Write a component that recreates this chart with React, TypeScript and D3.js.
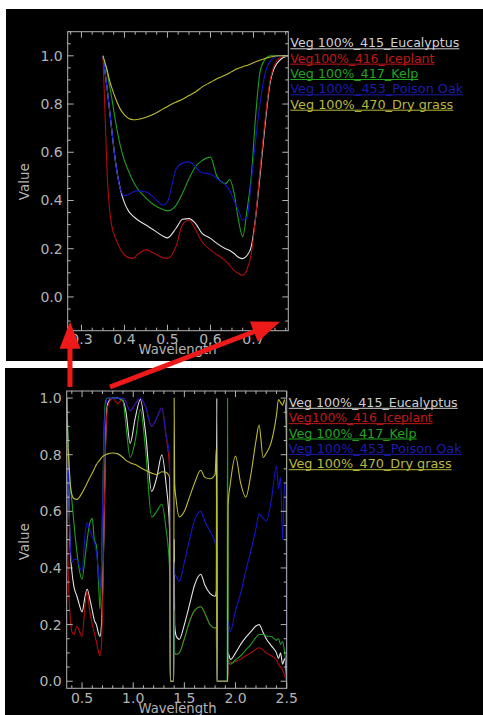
import React from "react";
import * as d3 from "d3";

// ---- data ----

const seriesNames = [
  "Veg 100%_415_Eucalyptus",
  "Veg100%_416_Iceplant",
  "Veg 100%_417_Kelp",
  "Veg 100%_453_Poison Oak",
  "Veg 100%_470_Dry grass",
];

// zoomed view, 0.35 - 0.78 um
const topWavelength = [
  0.35, 0.355, 0.36, 0.365, 0.37, 0.38, 0.39, 0.40, 0.41, 0.42, 0.43, 0.45,
  0.47, 0.49, 0.50, 0.52, 0.535, 0.55, 0.565, 0.58, 0.60, 0.615, 0.635, 0.645,
  0.655, 0.665, 0.675, 0.685, 0.695, 0.705, 0.715, 0.725, 0.74, 0.76, 0.78,
];
const topEucalyptus = [
  1.0, 0.93, 0.86, 0.78, 0.7, 0.55, 0.45, 0.39, 0.355, 0.335, 0.32, 0.298,
  0.275, 0.252, 0.245, 0.285, 0.322, 0.325, 0.305, 0.265, 0.243, 0.222, 0.2, 0.193,
  0.18, 0.165, 0.159, 0.172, 0.21, 0.33, 0.5, 0.68, 0.9, 0.98, 1.0,
];
const topIceplant = [
  1.0, 0.75, 0.5, 0.37, 0.3, 0.24, 0.2, 0.175, 0.163, 0.16, 0.175, 0.195,
  0.18, 0.162, 0.16, 0.21, 0.3, 0.318, 0.28, 0.23, 0.195, 0.175, 0.15, 0.13,
  0.11, 0.097, 0.09, 0.115, 0.18, 0.33, 0.52, 0.7, 0.91, 0.99, 1.0,
];
const topKelp = [
  1.0, 0.965, 0.93, 0.88, 0.83, 0.72, 0.63, 0.565, 0.52, 0.48, 0.45, 0.41,
  0.38, 0.362, 0.357, 0.38, 0.43, 0.49, 0.54, 0.565, 0.58, 0.5, 0.47, 0.487,
  0.43, 0.32, 0.25, 0.36, 0.5, 0.75, 0.93, 0.98, 1.0, 1.0, 1.0,
];
const topPoisonOak = [
  1.0, 0.93, 0.86, 0.78, 0.7, 0.55, 0.45, 0.42, 0.425, 0.435, 0.44, 0.435,
  0.41, 0.381, 0.395, 0.53, 0.555, 0.56, 0.54, 0.515, 0.51, 0.49, 0.465, 0.44,
  0.4, 0.36, 0.32, 0.33, 0.48, 0.65, 0.8, 0.91, 0.98, 1.0, 1.0,
];
const topDryGrass = [
  1.0, 0.97, 0.94, 0.9, 0.87, 0.82, 0.78, 0.755, 0.74, 0.735, 0.736, 0.745,
  0.76, 0.78, 0.79, 0.808, 0.82, 0.835, 0.85, 0.87, 0.89, 0.905, 0.92, 0.93,
  0.94, 0.948, 0.955, 0.96, 0.967, 0.975, 0.982, 0.988, 0.995, 1.0, 1.0,
];

// full range, 0.35 - 2.5 um (water bands zeroed)
const botWavelength = [
  0.35, 0.36, 0.37, 0.38, 0.39, 0.40, 0.42, 0.45, 0.47, 0.50,
  0.53, 0.55, 0.57, 0.60, 0.62, 0.64, 0.66, 0.675, 0.69, 0.70,
  0.715, 0.73, 0.75, 0.80, 0.85, 0.90, 0.93, 0.97, 1.02, 1.07,
  1.12, 1.18, 1.23, 1.28, 1.32, 1.355, 1.362, 1.396, 1.400, 1.405,
  1.42, 1.45, 1.50, 1.55, 1.60, 1.66, 1.70, 1.75, 1.80, 1.812,
  1.817, 1.822, 1.918, 1.922, 1.927, 1.95, 2.00, 2.05, 2.10, 2.15,
  2.20, 2.23, 2.27, 2.30, 2.35, 2.40, 2.42, 2.44, 2.46, 2.48,
  2.495, 2.50,
];
const botEucalyptus = [
  1.0, 0.85, 0.68, 0.52, 0.43, 0.39, 0.335, 0.3, 0.275, 0.245,
  0.3, 0.325, 0.3, 0.25, 0.215, 0.2, 0.17, 0.158, 0.2, 0.3,
  0.55, 0.85, 0.98, 1.0, 1.0, 0.99, 0.95, 0.84, 0.93, 0.995,
  0.88, 0.67, 0.72, 0.8, 0.7, 0.54, 0, 0, 0.5, 0.2,
  0.16, 0.148, 0.2, 0.27, 0.34, 0.378, 0.34, 0.31, 0.3, 0.32,
  1.0, 0, 0, 0, 0.1, 0.077, 0.1, 0.13, 0.155, 0.175,
  0.195, 0.2, 0.172, 0.15, 0.125, 0.1, 0.08, 0.1, 0.06, 0.08,
  0.03, 0,
];
const botIceplant = [
  1.0, 0.5, 0.32, 0.25, 0.2, 0.175, 0.165, 0.195, 0.18, 0.158,
  0.27, 0.32, 0.26, 0.2, 0.17, 0.14, 0.105, 0.09, 0.13, 0.26,
  0.55, 0.83, 0.97, 1.0, 0.98, 1.0, 0.985, 0.955, 0.98, 1.0,
  0.97, 0.9, 0.93, 0.965, 0.87, 0.75, 0, 0, 0.25, 0.1,
  0.095, 0.1, 0.15, 0.21, 0.25, 0.263, 0.24, 0.2, 0.188, 0.19,
  0, 0, 0, 0, 0.08, 0.065, 0.07, 0.078, 0.09, 0.1,
  0.113, 0.118, 0.11, 0.1, 0.09, 0.075, 0.06, 0.05, 0.04, 0.02,
  0.005, 0,
];
const botKelp = [
  1.0, 0.9, 0.8, 0.72, 0.67, 0.64, 0.56, 0.455, 0.4, 0.36,
  0.44, 0.5, 0.55, 0.575, 0.5, 0.48, 0.36, 0.255, 0.4, 0.6,
  0.88, 0.99, 1.0, 1.0, 1.0, 0.99, 0.9, 0.79, 0.85, 0.96,
  0.82, 0.58, 0.6, 0.625, 0.54, 0.4, 0, 0, 0.25, 0.1,
  0.095, 0.1, 0.15, 0.21, 0.25, 0.263, 0.24, 0.2, 0.188, 0.19,
  0, 0, 0, 1.0, 0.07, 0.06, 0.075, 0.09, 0.11, 0.13,
  0.155, 0.165, 0.165, 0.16, 0.158, 0.145, 0.15, 0.13, 0.14, 0.1,
  0.05, 0,
];
const botPoisonOak = [
  1.0, 0.85, 0.68, 0.53, 0.45, 0.42, 0.43, 0.43, 0.41, 0.39,
  0.52, 0.56, 0.54, 0.51, 0.49, 0.455, 0.39, 0.33, 0.4, 0.6,
  0.85, 0.97, 1.0, 1.0, 1.0, 1.0, 0.985, 0.955, 0.98, 1.0,
  0.97, 0.9, 0.93, 0.965, 0.87, 0.8, 0, 0, 0.42, 0.38,
  0.37, 0.353, 0.42, 0.5, 0.57, 0.6, 0.565, 0.53, 0.49, 0.47,
  0, 0, 0, 0, 0.21, 0.176, 0.25, 0.31, 0.39, 0.46,
  0.54, 0.59, 0.575, 0.565, 0.64, 0.76, 0.68, 0.72, 0.5, 0.7,
  0.45, 0,
];
const botDryGrass = [
  1.0, 0.86, 0.78, 0.72, 0.68, 0.66, 0.645, 0.642, 0.648, 0.665,
  0.685, 0.70, 0.715, 0.735, 0.75, 0.765, 0.775, 0.782, 0.79, 0.793,
  0.797, 0.80, 0.803, 0.806, 0.803, 0.79, 0.78, 0.772, 0.765, 0.755,
  0.745, 0.735, 0.73, 0.74, 0.738, 0.72, 0, 0, 1.0, 0.7,
  0.64, 0.58, 0.6, 0.65, 0.7, 0.745, 0.72, 0.715, 0.73, 0.82,
  0, 0, 0, 0, 0.62, 0.7, 0.795, 0.7, 0.65, 0.73,
  0.85, 0.905, 0.79, 0.805, 0.845, 0.94, 0.995, 0.985, 0.975, 0.995,
  0.9, 0.75,
];

const topXTicks = [0.3, 0.4, 0.5, 0.6, 0.7];
const botXTicks = [0.5, 1.0, 1.5, 2.0, 2.5];
const yTicks = [0.0, 0.2, 0.4, 0.6, 0.8, 1.0];

// ---- styles ----
const lineColors = ["#e4e4e4", "#b00c0c", "#1e9e1e", "#1414c8", "#bcbc30"];
const legendColors = ["#d0d0d0", "#c01818", "#22a422", "#1c1cac", "#b8b83c"];
const legendWidths = [169, 144, 128, 173, 163];
const axisColor = "#b4b4b4";
const font = "'DejaVu Sans', sans-serif";
const fmt = d3.format(".1f");

function minorTicks(domain, step) {
  const lo = Math.ceil(Math.min(...domain) / step - 1e-6);
  const hi = Math.floor(Math.max(...domain) / step + 1e-6);
  return d3.range(lo, hi + 1).map((i) => i * step);
}

function Panel({ id, wl, series, frame, xDomain, yDomain, xTicks, xMinor, legendTop, valueY, wlY, xLabelY }) {
  const x = d3.scaleLinear().domain(xDomain).range([frame.left, frame.right]);
  const y = d3.scaleLinear().domain(yDomain).range([frame.bottom, frame.top]);
  const line = d3
    .line<number>()
    .x((_, i) => x(wl[i]))
    .y((d) => y(d))
    .curve(d3.curveMonotoneX);

  const xm = minorTicks(xDomain, xMinor);
  const ym = minorTicks(yDomain, 0.05);
  const isMajor = (v, list) => list.some((t) => Math.abs(t - v) < 1e-6);

  return (
    <g>
      <defs>
        <clipPath id={id}>
          <rect x={frame.left} y={frame.top} width={frame.right - frame.left} height={frame.bottom - frame.top} />
        </clipPath>
      </defs>

      {/* data */}
      <g clipPath={`url(#${id})`}>
        {series.map((s, i) => (
          <path key={i} d={line(s) || ""} fill="none" stroke={lineColors[i]} strokeWidth={1.1} />
        ))}
      </g>

      {/* frame and ticks */}
      <rect
        x={frame.left}
        y={frame.top}
        width={frame.right - frame.left}
        height={frame.bottom - frame.top}
        fill="none"
        stroke={axisColor}
        strokeWidth={1}
      />
      {xm.map((v, i) => {
        const len = isMajor(v, xTicks) ? 6 : 3;
        return (
          <g key={"xt" + i} stroke={axisColor}>
            <line x1={x(v)} x2={x(v)} y1={frame.bottom} y2={frame.bottom - len} />
            <line x1={x(v)} x2={x(v)} y1={frame.top} y2={frame.top + len} />
          </g>
        );
      })}
      {ym.map((v, i) => {
        const len = isMajor(v, yTicks) ? 6 : 3;
        return (
          <g key={"yt" + i} stroke={axisColor}>
            <line x1={frame.left} x2={frame.left + len} y1={y(v)} y2={y(v)} />
            <line x1={frame.right} x2={frame.right - len} y1={y(v)} y2={y(v)} />
          </g>
        );
      })}

      {/* tick labels */}
      {xTicks.map((v) => (
        <text key={"xl" + v} x={x(v)} y={xLabelY} textAnchor="middle" fontSize={14} fontFamily={font} fill={axisColor}>
          {fmt(v)}
        </text>
      ))}
      {yTicks.map((v) => (
        <text
          key={"yl" + v}
          x={frame.left - 5}
          y={y(v) + 5}
          textAnchor="end"
          fontSize={14}
          fontFamily={font}
          fill={axisColor}
        >
          {fmt(v)}
        </text>
      ))}

      {/* axis titles */}
      <text
        transform={`translate(23.5,${valueY}) rotate(-90)`}
        textAnchor="middle"
        dominantBaseline="central"
        fontSize={14}
        fontFamily={font}
        fill={axisColor}
        textLength={37}
        lengthAdjust="spacingAndGlyphs"
      >
        Value
      </text>
      <text
        x={177.5}
        y={wlY}
        textAnchor="middle"
        fontSize={14}
        fontFamily={font}
        fill={axisColor}
        textLength={78}
        lengthAdjust="spacingAndGlyphs"
      >
        Wavelength
      </text>

      {/* legend */}
      {seriesNames.map((name, i) => {
        const by = legendTop + i * 15.35;
        const lx = frame.right + 2;
        return (
          <g key={name}>
            <text
              x={lx}
              y={by}
              fontSize={12.5}
              fontFamily={font}
              fill={legendColors[i]}
              textLength={legendWidths[i]}
              lengthAdjust="spacingAndGlyphs"
            >
              {name}
            </text>
            <line x1={lx} x2={lx + legendWidths[i]} y1={by + 1.5} y2={by + 1.5} stroke={legendColors[i]} strokeWidth={1} />
          </g>
        );
      })}
    </g>
  );
}

function arrowPoints(x0, y0, x1, y1, shaft, headLen, headW) {
  const dx = x1 - x0;
  const dy = y1 - y0;
  const L = Math.hypot(dx, dy);
  const ux = dx / L;
  const uy = dy / L;
  const px = -uy;
  const py = ux;
  const bx = x1 - ux * headLen;
  const by = y1 - uy * headLen;
  const pts = [
    [x0 + px * shaft / 2, y0 + py * shaft / 2],
    [bx + px * shaft / 2, by + py * shaft / 2],
    [bx + px * headW / 2, by + py * headW / 2],
    [x1, y1],
    [bx - px * headW / 2, by - py * headW / 2],
    [bx - px * shaft / 2, by - py * shaft / 2],
    [x0 - px * shaft / 2, y0 - py * shaft / 2],
  ];
  return pts.map((p) => p.join(",")).join(" ");
}

export default function App() {
  const topSeries = [topEucalyptus, topIceplant, topKelp, topPoisonOak, topDryGrass];
  const botSeries = [botEucalyptus, botIceplant, botKelp, botPoisonOak, botDryGrass];

  return (
    <svg
      width={483}
      height={715}
      style={{ position: "absolute", left: 0, top: 0, display: "block" }}
    >
      <rect x={0} y={0} width={483} height={715} fill="#ffffff" />
      <rect x={6} y={9} width={477} height={352} fill="#000000" />
      <rect x={5} y={368} width={478} height={347} fill="#000000" />

      <Panel
        id="clipTop"
        wl={topWavelength}
        series={topSeries}
        frame={{ left: 67.7, right: 288.3, top: 31.7, bottom: 330.7 }}
        xDomain={[0.268, 0.781]}
        yDomain={[-0.14, 1.1]}
        xTicks={topXTicks}
        xMinor={0.025}
        legendTop={47.3}
        valueY={181.7}
        wlY={354}
        xLabelY={344}
      />
      <Panel
        id="clipBot"
        wl={botWavelength}
        series={botSeries}
        frame={{ left: 66.7, right: 286.7, top: 391, bottom: 688.3 }}
        xDomain={[0.35, 2.5]}
        yDomain={[-0.025, 1.025]}
        xTicks={botXTicks}
        xMinor={0.1}
        legendTop={406.8}
        valueY={541.7}
        wlY={713}
        xLabelY={703}
      />

      {/* annotation arrows */}
      <polygon points={arrowPoints(70, 387, 70, 321.7, 5, 27, 21)} fill="#ee1a1a" />
      <polygon points={arrowPoints(110, 387, 280, 321.7, 5, 28, 22)} fill="#ee1a1a" />
    </svg>
  );
}
